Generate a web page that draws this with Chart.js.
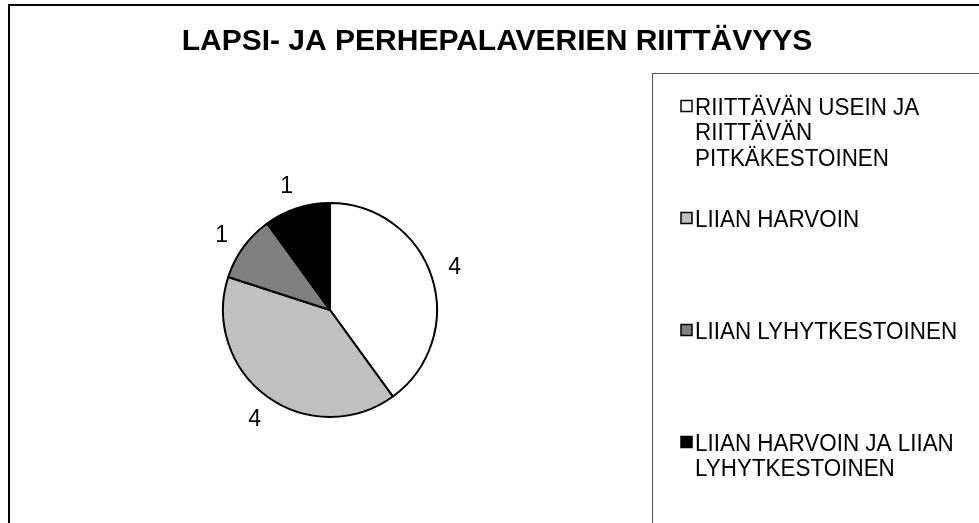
<!DOCTYPE html>
<html>
<head>
<meta charset="utf-8">
<script src="https://cdn.jsdelivr.net/npm/chart.js@4/dist/chart.umd.min.js"></script>
<style>
  html, body { margin: 0; padding: 0; background: #fff; }
  #wrap { width: 979px; height: 523px; }
</style>
</head>
<body>
<div id="wrap"><canvas id="pieChart" width="979" height="523"></canvas></div>
<script>
// ============================================
// DATA
// ============================================

const TITLE = 'LAPSI- JA PERHEPALAVERIEN RIITTÄVYYS';
const categories = [
  ['RIITTÄVÄN USEIN JA', 'RIITTÄVÄN', 'PITKÄKESTOINEN'],
  ['LIIAN HARVOIN'],
  ['LIIAN LYHYTKESTOINEN'],
  ['LIIAN HARVOIN JA LIIAN', 'LYHYTKESTOINEN']
];
const values = [4, 4, 1, 1];
const sliceColors = ['#ffffff', '#c0c0c0', '#808080', '#000000'];

// ============================================
// LAYOUT
// ============================================

const FONT = '"Liberation Sans", Arial, sans-serif';
const LEGEND_BOX = { x: 652.5, y: 73.5 };
const LEGEND_FIRST_BASELINE = 114.5;
const LEGEND_ITEM_STEP = 112;
const LEGEND_LINE_HEIGHT = 25.5;
const LABEL_GAP = 25;
const TEXT_SQUEEZE = 0.975; // sheet text runs slightly narrow

// draw text squeezed/stretched horizontally around its anchor
function squeezeText(ctx, text, x, y, sx) {
  ctx.save();
  ctx.translate(x, y);
  ctx.scale(sx, 1);
  ctx.fillText(text, 0, 0);
  ctx.restore();
}

// frame, title, legend and value labels (drawn like the original sheet)
const decorPlugin = {
  id: 'decor',
  beforeDraw(chart) {
    const ctx = chart.ctx;
    ctx.save();
    ctx.fillStyle = '#fff';
    ctx.fillRect(0, 0, chart.width, chart.height);
    // outer frame (cut off on right/bottom)
    ctx.strokeStyle = '#000';
    ctx.lineWidth = 2;
    ctx.strokeRect(9, 5, chart.width + 20, chart.height + 20);
    // title
    ctx.fillStyle = '#000';
    ctx.font = 'bold 30px ' + FONT;
    ctx.textAlign = 'center';
    ctx.textBaseline = 'alphabetic';
    ctx.fillText(TITLE, 497, 50);
    ctx.restore();
  },
  afterDraw(chart) {
    const ctx = chart.ctx;
    ctx.save();
    // legend box
    ctx.strokeStyle = '#555';
    ctx.lineWidth = 1;
    ctx.strokeRect(LEGEND_BOX.x, LEGEND_BOX.y, chart.width, chart.height);

    ctx.font = '23px ' + FONT;
    ctx.textAlign = 'left';
    ctx.textBaseline = 'alphabetic';
    categories.forEach((lines, i) => {
      const base = LEGEND_FIRST_BASELINE + i * LEGEND_ITEM_STEP;
      ctx.fillStyle = sliceColors[i];
      ctx.fillRect(681, base - 14, 11, 11);
      ctx.strokeStyle = '#000';
      ctx.lineWidth = 1.5;
      ctx.strokeRect(681, base - 14, 11, 11);
      ctx.fillStyle = '#000';
      lines.forEach((line, j) => {
        squeezeText(ctx, line, 695, base + j * LEGEND_LINE_HEIGHT, TEXT_SQUEEZE);
      });
    });

    // value labels outside the slices
    const meta = chart.getDatasetMeta(0);
    ctx.font = '23px ' + FONT;
    ctx.textAlign = 'center';
    ctx.textBaseline = 'middle';
    meta.data.forEach((arc, i) => {
      const p = arc.getProps(['x', 'y', 'startAngle', 'endAngle', 'outerRadius'], true);
      const mid = (p.startAngle + p.endAngle) / 2 - 0.02;
      const r = p.outerRadius + LABEL_GAP;
      ctx.fillText(String(values[i]), p.x + Math.cos(mid) * r, p.y + Math.sin(mid) * r + 1);
    });
    ctx.restore();
  }
};

// ============================================
// CHART
// ============================================

function initializeChart() {
  const ctx = document.getElementById('pieChart').getContext('2d');
  new Chart(ctx, {
    type: 'pie',
    data: {
      labels: categories,
      datasets: [{
        data: values,
        backgroundColor: sliceColors,
        borderColor: '#000',
        borderWidth: 2
      }]
    },
    options: {
      responsive: false,
      animation: false,
      layout: {
        padding: { left: 222, right: 541, top: 202, bottom: 105 }
      },
      plugins: {
        legend: { display: false },
        title: { display: false },
        tooltip: { enabled: false }
      }
    },
    plugins: [decorPlugin]
  });
}

document.addEventListener('DOMContentLoaded', initializeChart);
</script>
</body>
</html>
